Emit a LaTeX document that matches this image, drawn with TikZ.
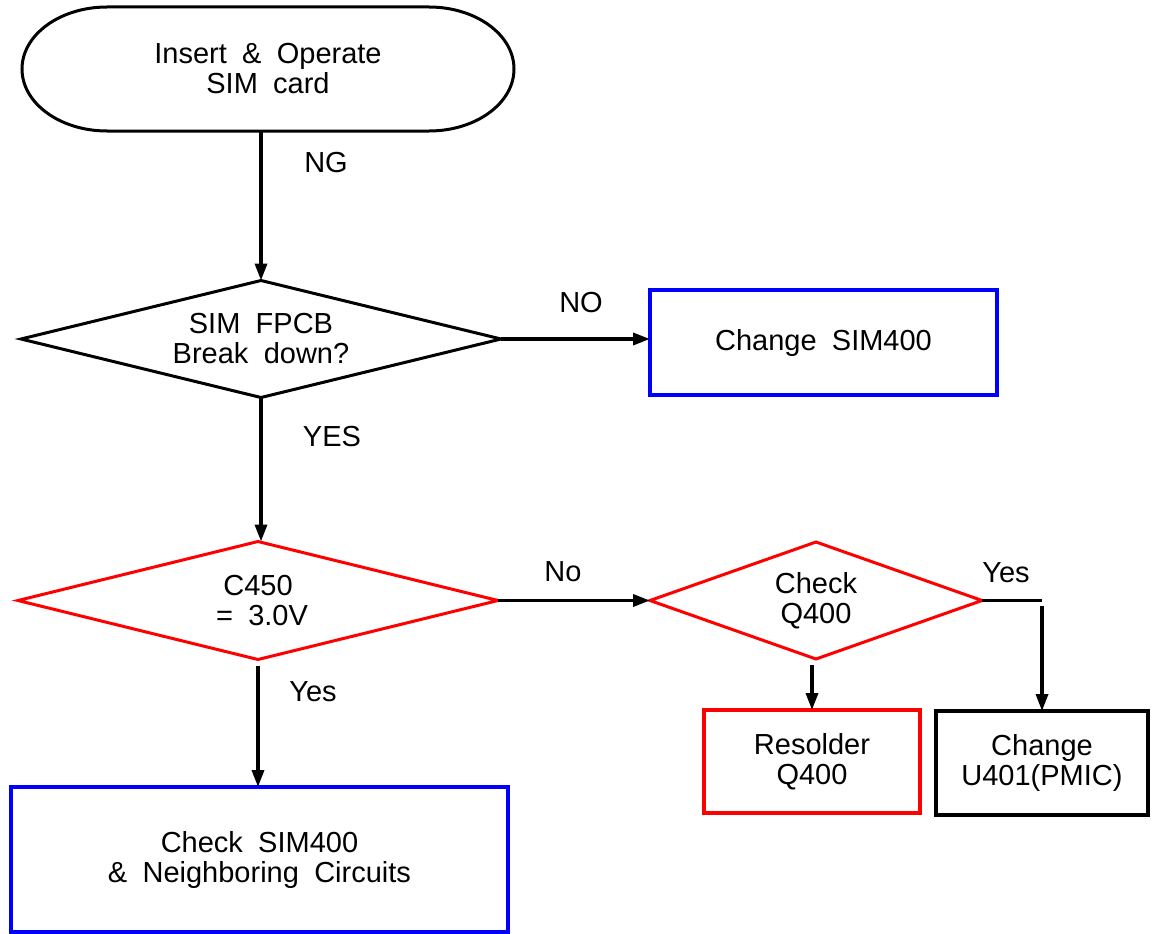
\documentclass[tikz,border=0pt]{standalone}
\usepackage{fontspec}
\setmainfont{Liberation Sans}[WordSpace=1.9]
\usetikzlibrary{arrows.meta}
\definecolor{rblue}{RGB}{0,0,255}
\definecolor{rred}{RGB}{255,0,0}
\tikzset{
  every node/.style={font=\fontsize{29}{30}\selectfont, align=center, inner sep=0pt, outer sep=0pt},
  decarea/.style={rectangle},
  decline/.style={line width=3pt, line join=miter},
  boxx/.style={rectangle, draw, line width=4pt},
  conn/.style={line width=3.4pt},
  arr/.style={conn, -{Triangle[length=17pt,width=12pt]}},
  lbl/.style={}
}
\newcommand{\diamondpath}[2]{\draw[decline,#2] (#1.north) -- (#1.east) -- (#1.south) -- (#1.west) -- cycle;}
\begin{document}
\begin{tikzpicture}[x=1pt,y=-1pt]
\useasboundingbox (0,0) rectangle (1152,934);
% terminal
\node[minimum width=492pt, minimum height=124pt] (start) at (268,69) {Insert \& Operate\\SIM card};
\draw[line width=3pt] ([xshift=85pt]start.north west) -- ([xshift=-85pt]start.north east)
  arc[start angle=90, end angle=-90, x radius=85pt, y radius=62pt]
  -- ([xshift=85pt]start.south west)
  arc[start angle=270, end angle=90, x radius=85pt, y radius=62pt] -- cycle;
% decisions
\node[decarea, minimum width=480pt, minimum height=117pt] (d1) at (261,339) {SIM FPCB\\Break down?};
\diamondpath{d1}{black}
\node[decarea, minimum width=480pt, minimum height=118pt] (d2) at (258,600.5) {C450\\\hspace*{8pt}= 3.0V};
\diamondpath{d2}{rred}
\node[decarea, minimum width=332pt, minimum height=117pt] (d3) at (816,600.5) {Check\\Q400};
\diamondpath{d3}{rred}
% boxes
\node[boxx, draw=rblue, minimum width=347pt, minimum height=105pt] (b1) at (823.5,342.5) {Change SIM400};
\node[boxx, draw=rred, minimum width=216pt, minimum height=103pt] (b2) at (812,761.5) {Resolder\\Q400};
\node[boxx, minimum width=212pt, minimum height=104pt] (b3) at (1042,763) {Change\\U401(PMIC)};
\node[boxx, draw=rblue, minimum width=497pt, minimum height=145pt] (b4) at (259.5,859.5) {Check SIM400\\\& Neighboring Circuits};
% connectors
\draw[arr] (d1.north |- start.south) -- (d1.north);
\draw[arr] (d1.east) -- (d1.east -| b1.west);
\draw[arr] (d1.south) -- (d1.south |- d2.north);
\draw[arr] (d2.east) -- (d3.west);
\draw[arr] ([yshift=-6pt]d3.south -| b2.north) -- (b2.north);
\coordinate (yc) at (d3.east -| b3.north);
\draw[conn] (d3.east) -- (yc);
\draw[arr] ([yshift=-5pt]yc) -- (b3.north);
\draw[arr] ([yshift=-6pt]d2.south) -- (d2.south |- b4.north);
% labels
\node[lbl] (lng) at (326,163) {NG};
\node[lbl] (lno) at (581,303) {NO};
\node[lbl] (lyes) at (332,437) {YES};
\node[lbl] (lno2) at (563,572) {No};
\node[lbl] (lyes2) at (313,692) {Yes};
\node[lbl] (lyes3) at (1006,573) {Yes};
\end{tikzpicture}
\end{document}
